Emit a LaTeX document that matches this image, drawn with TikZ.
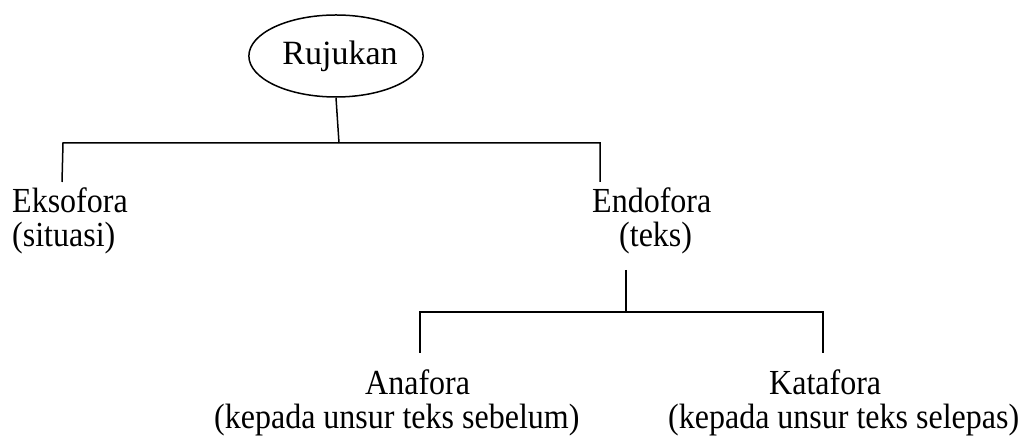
\documentclass[tikz,border=0pt]{standalone}
\usepackage{fontspec}
\setmainfont{Liberation Serif}
\usetikzlibrary{shapes.geometric}
\tikzset{
  link/.style={line width=1.5pt, black},
  label/.style={inner sep=0pt, anchor=base west, font=\fontsize{32}{27.3}\selectfont},
  rootnode/.style={draw, line width=1.5pt, ellipse, inner sep=0pt,
    minimum width=171pt, minimum height=82pt, font=\fontsize{34}{36}\selectfont}
}
% two-line label, slightly stretched vertically, baseline on the first line
\newcommand{\twolines}[2]{\scalebox{1}[1.1]{\begin{tabular}[t]{@{}l@{}}#1\\#2\end{tabular}}}
\begin{document}
\begin{tikzpicture}[x=1pt,y=1pt]
  \useasboundingbox (0,0) rectangle (1027,438);

  % root
  \node[rootnode] (root) at (336,382) {\hspace*{8pt}Rujukan};

  % first level
  \node[label] (eks) at (12,225) {\twolines{Eksofora}{(situasi)}};
  \node[label] (endo) at (592,225) {\twolines{Endofora}{\hspace*{27pt}(teks)}};

  % second level
  \node[label] (ana) at (214,43) {\twolines{\hspace*{151pt}Anafora}{(kepada unsur teks sebelum)}};
  \node[label] (kata) at (668,43) {\twolines{\hspace*{101pt}Katafora}{(kepada unsur teks selepas)}};

  % branch points
  \coordinate (topbar) at (339,295);
  \coordinate (eksL) at (63,295);
  \coordinate (endoR) at (600,295);
  \coordinate (eksEnd) at (62,256);
  \coordinate (endoEnd) at (600,256);
  \coordinate (endoStem) at (626,168);
  \coordinate (lowbar) at (626,126);
  \coordinate (anaL) at (420,126);
  \coordinate (kataR) at (823,126);
  \coordinate (anaEnd) at (420,85);
  \coordinate (kataEnd) at (823,85);

  % connectors
  \draw[link] (root.south) -- (topbar);
  \draw[link] (eksEnd) -- (eksL) -- (endoR) -- (endoEnd);
  \draw[link] (endoStem) -- (lowbar);
  \draw[link] (anaEnd) -- (anaL) -- (kataR) -- (kataEnd);
\end{tikzpicture}
\end{document}
